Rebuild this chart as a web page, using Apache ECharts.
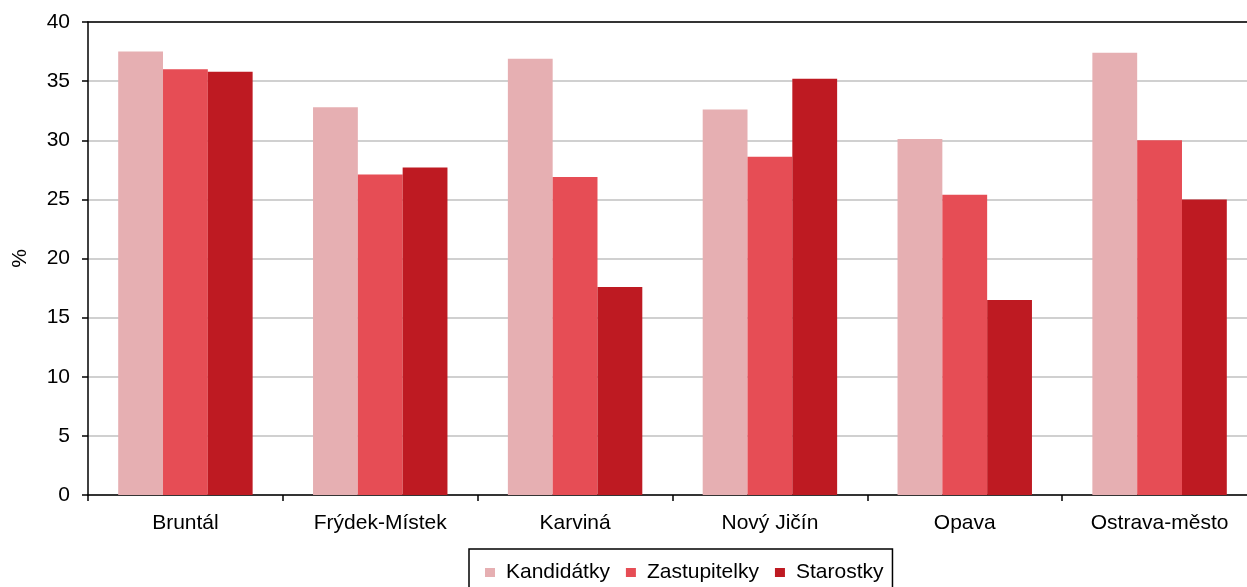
<!DOCTYPE html>
<html>
<head>
<meta charset="utf-8">
<script src="https://cdn.jsdelivr.net/npm/echarts@6/dist/echarts.min.js"></script>
<style>html,body{margin:0;padding:0;background:#fff;}#c{width:1247px;height:587px;}</style>
</head>
<body>
<div id="c"></div>
<script>
const categories = ['Bruntál', 'Frýdek-Místek', 'Karviná', 'Nový Jičín', 'Opava', 'Ostrava-město'];
const kandidatky = [37.5, 32.8, 36.9, 32.6, 30.1, 37.4];
const zastupitelky = [36.0, 27.1, 26.9, 28.6, 25.4, 30.0];
const starostky = [35.8, 27.7, 17.6, 35.2, 16.5, 25.0];
const yTicks = [0, 5, 10, 15, 20, 25, 30, 35, 40];

const font = 'Liberation Sans, Arial, sans-serif';
const chart = echarts.init(document.getElementById('c'), null, {renderer: 'canvas'});
chart.setOption({
  animation: false,
  backgroundColor: '#fff',
  textStyle: {fontFamily: font},
  grid: {left: 88, top: 22, width: 1169, height: 473, outerBoundsMode: 'none', containLabel: false},
  legend: {
    left: 469, top: 549,
    itemWidth: 10, itemHeight: 9, itemGap: 16,
    icon: 'rect',
    borderColor: '#000', borderWidth: 1.5,
    padding: [13, 9, 14, 16],
    textStyle: {fontFamily: font, fontSize: 21, color: '#000', padding: [0, 0, 0, 6]},
    data: ['Kandidátky', 'Zastupitelky', 'Starostky']
  },
  xAxis: [{
    type: 'category',
    data: categories,
    axisLine: {lineStyle: {color: '#000', width: 1.5}},
    axisTick: {show: true, length: 6, lineStyle: {color: '#000', width: 1.5}},
    axisLabel: {fontFamily: font, fontSize: 21, color: '#000', margin: 18},
    splitLine: {show: false}
  }, {
    type: 'category',
    position: 'top',
    data: categories,
    axisLine: {show: true, lineStyle: {color: '#000', width: 1.5}},
    axisTick: {show: false},
    axisLabel: {show: false},
    splitLine: {show: false}
  }],
  yAxis: {
    type: 'value',
    min: yTicks[0], max: yTicks[yTicks.length - 1], interval: 5,
    name: '%',
    nameLocation: 'middle',
    nameGap: 57,
    nameRotate: 90,
    nameTextStyle: {fontFamily: font, fontSize: 21, color: '#000'},
    axisLine: {show: true, lineStyle: {color: '#000', width: 1.5}},
    axisTick: {show: true, length: 6, lineStyle: {color: '#000', width: 1.5}},
    axisLabel: {fontFamily: font, fontSize: 21, color: '#000', margin: 18},
    splitLine: {show: true, lineStyle: {color: '#C0C0C0', width: 1.5}}
  },
  series: [
    {name: 'Kandidátky', type: 'bar', data: kandidatky, itemStyle: {color: '#E6AFB2'}, barGap: '0%', barCategoryGap: '31%'},
    {name: 'Zastupitelky', type: 'bar', data: zastupitelky, itemStyle: {color: '#E64D55'}, barGap: '0%', barCategoryGap: '31%'},
    {name: 'Starostky', type: 'bar', data: starostky, itemStyle: {color: '#BE1A22'}, barGap: '0%', barCategoryGap: '31%'}
  ]
});
</script>
</body>
</html>
